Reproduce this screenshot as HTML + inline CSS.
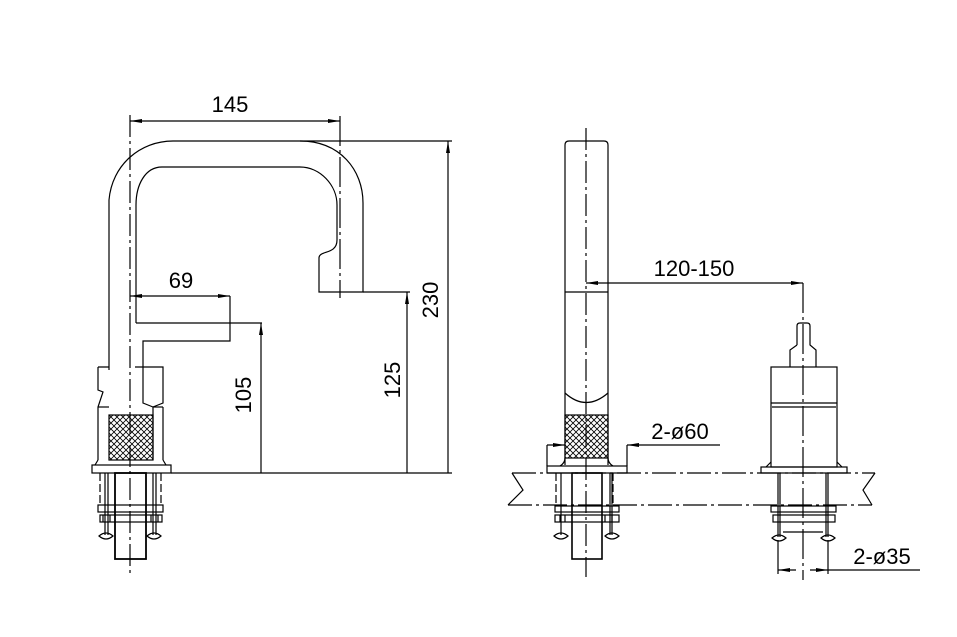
<!DOCTYPE html>
<html><head><meta charset="utf-8"><style>
html,body{margin:0;padding:0;background:#fff;}
svg{display:block;}
text{font-family:"Liberation Sans",sans-serif;font-size:22px;fill:#000;}
</style></head><body>
<svg width="957" height="637" viewBox="0 0 957 637" xmlns="http://www.w3.org/2000/svg">
<defs>
<pattern id="kn" width="6" height="6" patternUnits="userSpaceOnUse">
<path d="M0 0L6 6M6 0L0 6" stroke="#000" stroke-width="0.8"/>
</pattern>
<marker id="ar" viewBox="0 0 12 6" refX="12" refY="3" markerWidth="12" markerHeight="6" orient="auto-start-reverse" markerUnits="userSpaceOnUse">
<path d="M0 1L12 3L0 5Z" fill="#000"/>
</marker>
</defs>
<g fill="none" stroke="#000" stroke-width="1.2">
<!-- LEFT VIEW -->
<!-- centerline -->
<line x1="130" y1="115" x2="130" y2="577" stroke-dasharray="22,4,3,4"/>
<!-- spout outer -->
<path d="M109 370 L109 200 C112 165 140 141 173 141 L300 141 C340 141 363 170 363 203 L363 292 L319 292 L319 258 C319 250 337 255 337 240 L337 205 C337 185 320 167 300 167 L162 167 C145 167 136 185 136 205 L136 323"/>
<line x1="300" y1="141" x2="452" y2="141"/>
<!-- handle -->
<path d="M136 323 L262 323"/>
<path d="M143 367 L143 341 L230 341 L230 296"/>
<!-- body blocks -->
<path d="M98 367 L109 367 M98 367 L98 390 L103 392 L98 407 L98 460"/>
<path d="M135 367 L163 367 L163 403 L153 407 L153 460"/>
<path d="M143 367 L143 403 L153 407"/>
<rect x="109" y="415" width="44" height="45" fill="url(#kn)"/>
<line x1="98" y1="407" x2="109" y2="407"/>
<line x1="153" y1="407" x2="163" y2="407"/>
<path d="M163 407 L163 460"/>
<path d="M98 460 L95 465 M163 460 L166 465"/>
<rect x="92" y="465" width="79" height="8"/>
<line x1="171" y1="473" x2="452" y2="473"/>
<!-- under body -->
<path d="M105 473 L105 535 M108 473 L108 535 M153 473 L153 535 M156 473 L156 535"/>
<path d="M100 473 L100 505 M161 473 L161 505" stroke-dasharray="8,3"/>
<rect x="98" y="505" width="65" height="7"/>
<rect x="100" y="515" width="62" height="7"/>
<path d="M103 515 L103 522 M110 515 L110 522 M151 515 L151 522 M158 515 L158 522"/>
<rect x="115" y="473" width="31" height="86" stroke-width="1.8"/>
<path d="M99 536 Q106 530 113 536 Q106 542 99 536Z M147 536 Q154 530 161 536 Q154 542 147 536Z"/>
<!-- dims left -->
<line x1="340" y1="116" x2="340" y2="298" stroke-dasharray="30,4,3,4"/>
<line x1="130" y1="121" x2="340" y2="121" marker-start="url(#ar)" marker-end="url(#ar)"/>
<line x1="130" y1="296" x2="230" y2="296" marker-start="url(#ar)" marker-end="url(#ar)"/>
<line x1="261" y1="323" x2="261" y2="473" marker-start="url(#ar)"/>
<line x1="363" y1="292" x2="410" y2="292"/>
<line x1="407" y1="292" x2="407" y2="473" marker-start="url(#ar)"/>
<line x1="448" y1="141" x2="448" y2="473" marker-start="url(#ar)"/>

<!-- RIGHT VIEW spout -->
<line x1="586" y1="128" x2="586" y2="577" stroke-dasharray="22,4,3,4"/>
<path d="M565 465 L565 145 Q565 141 569 141 L604 141 Q608 141 608 145 L608 465"/>
<line x1="565" y1="292" x2="608" y2="292"/>
<path d="M565 393 Q586 412 608 393"/>
<rect x="565" y="415" width="43" height="43" fill="url(#kn)"/>
<path d="M565 458 Q565 463 560 466 M608 458 Q608 463 613 466"/>
<rect x="547" y="466" width="80" height="7"/>
<!-- deck -->
<path d="M512 473 L875 473 M508 505 L872 505" stroke-dasharray="24,4,3,4"/>
<path d="M512 473 L523 490 L508 505"/>
<path d="M875 473 L863 490 L872 505"/>
<!-- under right spout -->
<path d="M561 473 L561 535 M610 473 L610 535 M612 473 L612 535" />
<path d="M556 473 L556 505 M613 473 L613 505" stroke-dasharray="8,3"/>
<rect x="572" y="473" width="30" height="86" stroke-width="1.6"/>
<rect x="555" y="506" width="64" height="6"/>
<rect x="555" y="515" width="64" height="7"/>
<path d="M560 515 L560 522 M565 515 L565 522 M605 515 L605 522 M612 515 L612 522"/>
<path d="M554 536 Q561 530 568 536 Q561 542 554 536Z M605 536 Q612 530 619 536 Q612 542 605 536Z"/>
<line x1="547" y1="445" x2="547" y2="466"/>
<line x1="627" y1="445" x2="627" y2="466"/>
<line x1="547" y1="445" x2="565" y2="445" marker-end="url(#ar)"/>
<line x1="720" y1="445" x2="627" y2="445" marker-end="url(#ar)"/>
<!-- 120-150 -->
<line x1="586" y1="283" x2="803" y2="283" marker-start="url(#ar)" marker-end="url(#ar)"/>
<line x1="803" y1="283" x2="803" y2="580" stroke-dasharray="30,4,3,4"/>
<!-- valve -->
<path d="M797 345 L797 326 Q797 323 800 323 L807 323 Q810 323 810 326 L810 345 L816 350 L816 367 M797 345 L790 350 L790 367"/>
<rect x="771" y="367" width="66" height="100"/>
<line x1="771" y1="403" x2="837" y2="403"/>
<line x1="772" y1="407" x2="836" y2="407"/>
<path d="M771 462 L766 467 M837 462 L842 467"/>
<rect x="761" y="467" width="86" height="6"/>
<path d="M778 473 L778 537 M780 473 L780 537 M826 473 L826 537 M828 473 L828 537"/>
<rect x="771" y="506" width="65" height="6"/>
<rect x="773" y="515" width="62" height="7"/>
<line x1="783" y1="532" x2="823" y2="532"/>
<path d="M772 538 Q779 532 786 538 Q779 544 772 538Z M821 538 Q828 532 835 538 Q828 544 821 538Z"/>
<line x1="778" y1="540" x2="778" y2="574"/>
<line x1="828" y1="540" x2="828" y2="574"/>
<line x1="778" y1="570" x2="796" y2="570" marker-start="url(#ar)"/>
<line x1="810" y1="570" x2="828" y2="570" marker-end="url(#ar)"/>
<line x1="828" y1="570" x2="920" y2="570"/>
</g>
<g>
<text x="230" y="112" text-anchor="middle">145</text>
<text x="181" y="288" text-anchor="middle">69</text>
<text transform="translate(251,395) rotate(-90)" text-anchor="middle">105</text>
<text transform="translate(400,380) rotate(-90)" text-anchor="middle">125</text>
<text transform="translate(438,300) rotate(-90)" text-anchor="middle">230</text>
<text x="694" y="276" text-anchor="middle">120-150</text>
<text x="680" y="439" text-anchor="middle">2-ø60</text>
<text x="882" y="564" text-anchor="middle">2-ø35</text>
</g>
</svg>
</body></html>
